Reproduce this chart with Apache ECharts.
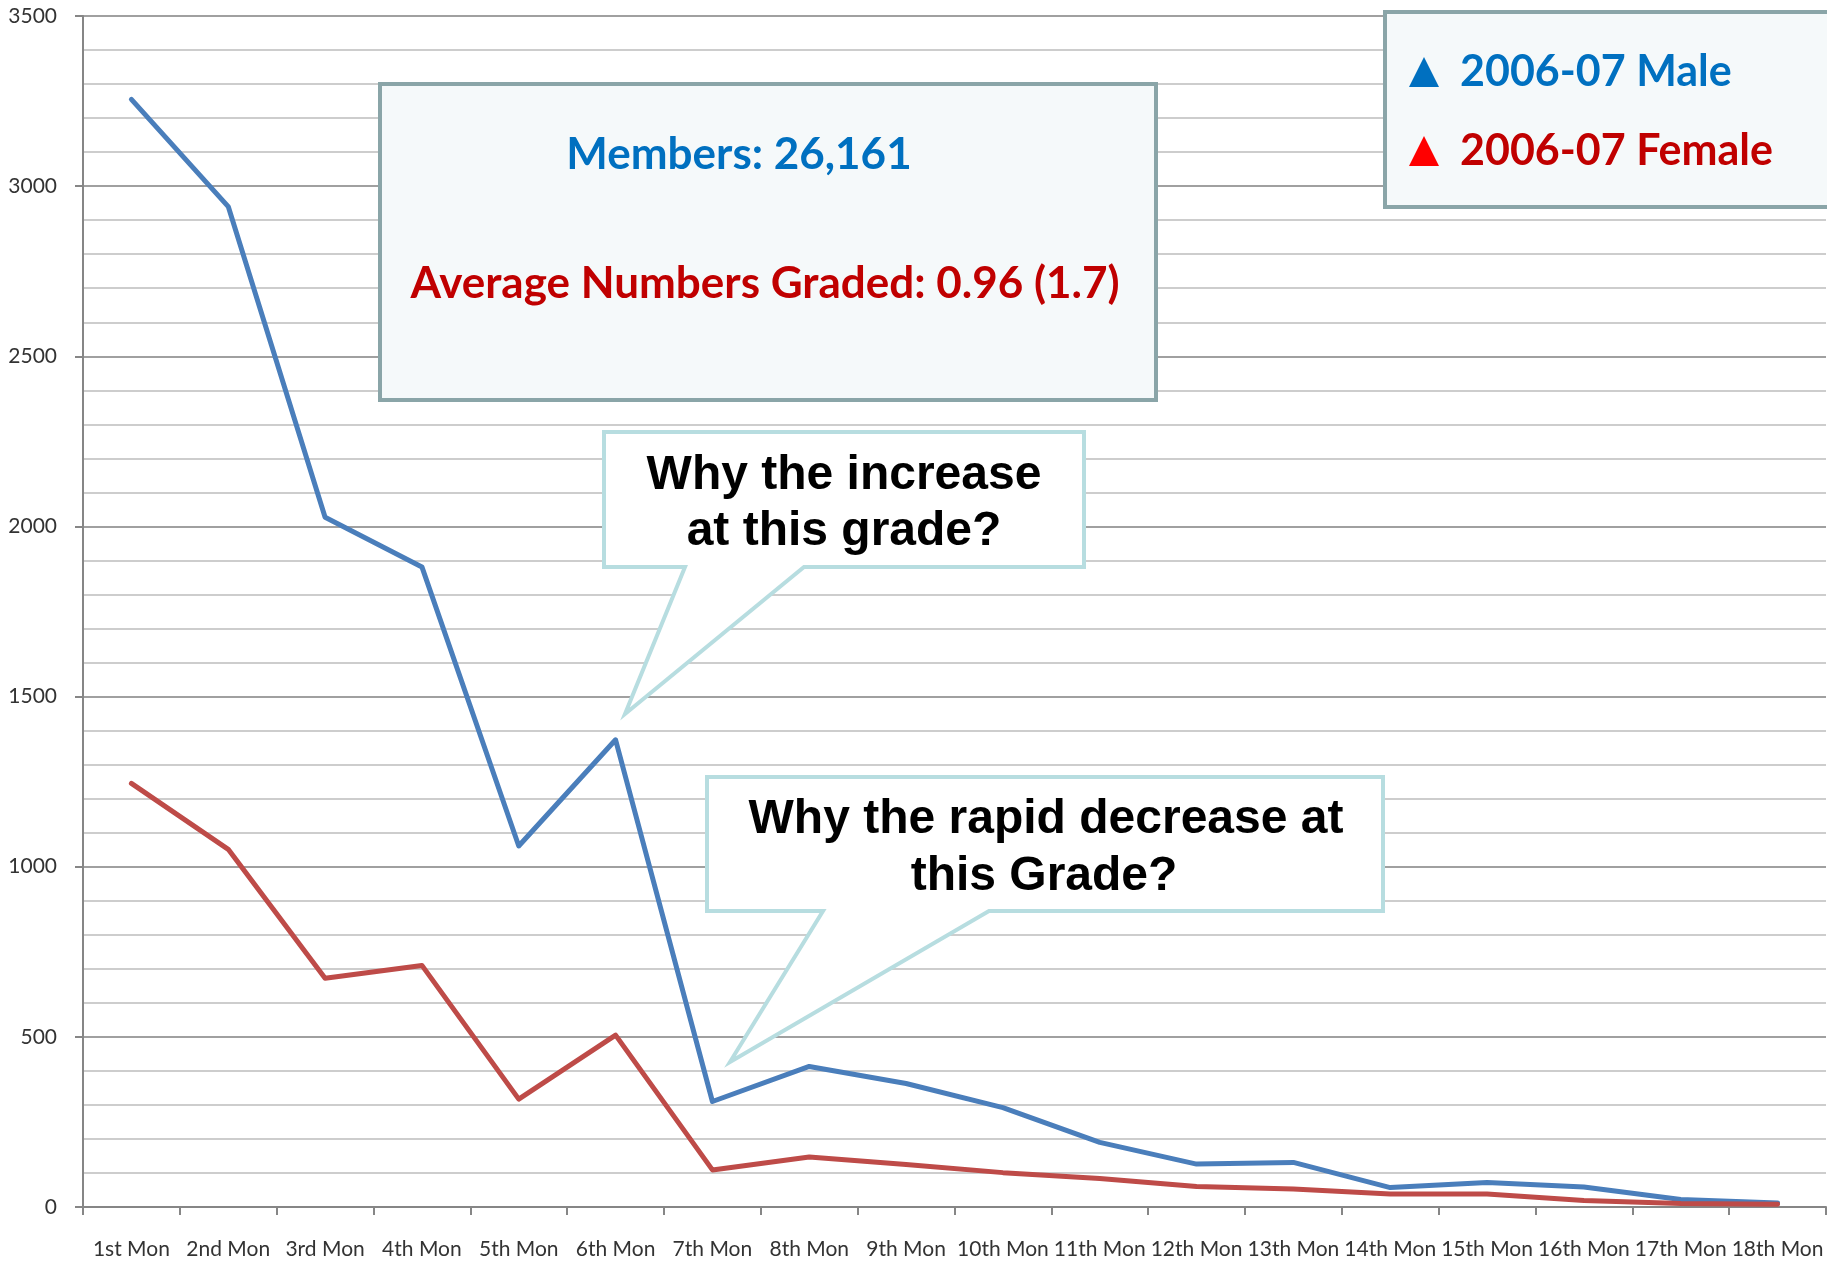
<!DOCTYPE html>
<html>
<head>
<meta charset="utf-8">
<title>Members by month graded</title>
<script src="https://cdn.jsdelivr.net/npm/echarts@6/dist/echarts.min.js"></script>
<style>
  html, body { margin: 0; padding: 0; background: #fff; }
  #main { width: 1827px; height: 1261px; }
</style>
</head>
<body>
<div id="main"></div>
<script>
// categories along the x axis
const months = ['1st Mon', '2nd Mon', '3rd Mon', '4th Mon', '5th Mon', '6th Mon',
  '7th Mon', '8th Mon', '9th Mon', '10th Mon', '11th Mon', '12th Mon',
  '13th Mon', '14th Mon', '15th Mon', '16th Mon', '17th Mon', '18th Mon']

// values
const male = [3255, 2940, 2027, 1881, 1061, 1373, 310, 413, 363, 292, 190, 126, 131, 57, 72, 59, 22, 12]
const female = [1245, 1051, 672, 710, 317, 505, 109, 147, 125, 101, 84, 60, 53, 38, 38, 19, 10, 8]

const seriesNames = ['2006-07 Male', '2006-07 Female']

// y axis: 0 .. 3500 step 500, minor lines every 100
const yMin = 0
const yMax = 3500
const yStep = 500

const axisColor = '#868686'
const labelColor = '#333'
const calloutBorder = '#b7dde0'
const boxBorder = '#8aa5a8'
const boxFill = '#f5f9fa'

const chart = echarts.init(document.getElementById('main'))

const callout = (points) => ({
  type: 'polygon',
  z: 50,
  shape: { points },
  style: { fill: '#fff', stroke: calloutBorder, lineWidth: 4, lineJoin: 'miter' }
})

const label = (text, x, y, font, color) => ({
  type: 'text',
  z: 60,
  x, y,
  style: { text, font, fill: color, align: 'center', verticalAlign: 'middle' }
})

const calloutFont = 'bold 48px "Liberation Sans", Arial, sans-serif'
const boxFont = 'bold 44px Lato, sans-serif'

const option = {
  animation: false,
  backgroundColor: '#fff',
  grid: {
    left: 83,
    right: 1,
    top: 16,
    bottom: 54,
    containLabel: false
  },
  legend: {
    orient: 'vertical',
    left: 1385,
    top: 12,
    padding: [35, 200, 31, 24],
    itemWidth: 30,
    itemHeight: 30,
    itemGap: 29,
    backgroundColor: boxFill,
    borderColor: boxBorder,
    borderWidth: 4,
    selectedMode: false,
    z: 70,
    textStyle: {
      fontFamily: 'Lato',
      fontWeight: 'bold',
      fontSize: 43,
      lineHeight: 50,
      padding: [0, 0, 0, 16]
    },
    data: [
      { name: seriesNames[0], icon: 'triangle', itemStyle: { color: '#0070c0' }, textStyle: { color: '#0070c0' } },
      { name: seriesNames[1], icon: 'triangle', itemStyle: { color: '#ff0000' }, textStyle: { color: '#c00000' } }
    ]
  },
  xAxis: {
    type: 'category',
    data: months,
    boundaryGap: true,
    axisLine: { lineStyle: { color: axisColor, width: 2 } },
    axisTick: { show: true, length: 8, lineStyle: { color: axisColor, width: 2 } },
    axisLabel: {
      interval: 0,
      margin: 32,
      color: labelColor,
      fontFamily: 'Lato',
      fontSize: 21
    },
    splitLine: { show: false }
  },
  yAxis: {
    type: 'value',
    min: yMin,
    max: yMax,
    interval: yStep,
    axisLine: { show: true, lineStyle: { color: axisColor, width: 2 } },
    axisTick: { show: true, length: 8, lineStyle: { color: axisColor, width: 2 } },
    minorTick: { show: false, splitNumber: 5 },
    axisLabel: {
      margin: 26,
      color: labelColor,
      fontFamily: 'Lato',
      fontSize: 21,
      formatter: (v) => String(v)
    },
    splitLine: { show: true, lineStyle: { color: '#a0a0a0', width: 2 } },
    minorSplitLine: { show: true, lineStyle: { color: '#cdcdcd', width: 2 } }
  },
  series: [
    {
      name: seriesNames[0],
      type: 'line',
      data: male,
      showSymbol: false,
      color: '#4a7ebb',
      lineStyle: { width: 5, color: '#4a7ebb', join: 'round', cap: 'round' },
      z: 3
    },
    {
      name: seriesNames[1],
      type: 'line',
      data: female,
      showSymbol: false,
      color: '#be4b48',
      lineStyle: { width: 5, color: '#be4b48', join: 'round', cap: 'round' },
      z: 3
    }
  ],
  graphic: [
    // summary box
    {
      type: 'rect',
      z: 50,
      shape: { x: 380, y: 84, width: 776, height: 316 },
      style: { fill: boxFill, stroke: boxBorder, lineWidth: 4 }
    },
    label('Members: 26,161', 739, 155, boxFont, '#0070c0'),
    label('Average Numbers Graded: 0.96 (1.7)', 765, 284, boxFont, '#c00000'),
    // callout at 6th month
    callout([[604, 432], [1084, 432], [1084, 567], [804, 567], [625, 714], [685, 567], [604, 567]]),
    label('Why the increase', 844, 476, calloutFont, '#000'),
    label('at this grade?', 844, 532, calloutFont, '#000'),
    // callout at 7th month
    callout([[707, 777], [1383, 777], [1383, 911], [989, 911], [730, 1062], [823, 911], [707, 911]]),
    label('Why the rapid decrease at', 1046, 820, calloutFont, '#000'),
    label('this Grade?', 1044, 877, calloutFont, '#000')
  ]
}

chart.setOption(option)
</script>
</body>
</html>
